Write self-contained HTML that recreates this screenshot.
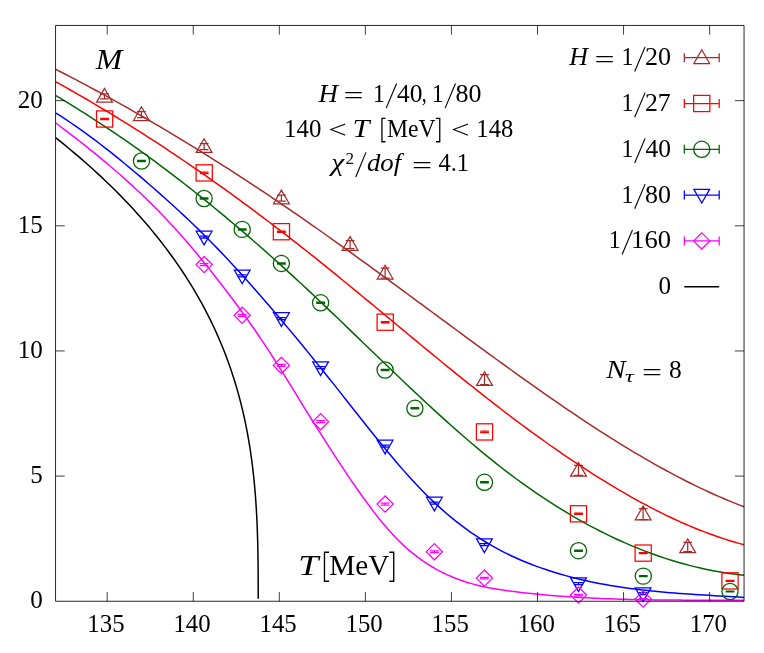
<!DOCTYPE html>
<html><head><meta charset="utf-8"><title>M vs T</title>
<style>html,body{margin:0;padding:0;background:#fff}body{width:764px;height:653px;overflow:hidden;font-family:"Liberation Serif",serif}</style>
</head><body>
<svg width="764" height="653" viewBox="0 0 764 653" style="display:block">
<rect width="764" height="653" fill="#fff"/>
<clipPath id="c"><rect x="55.55" y="25.45" width="688.5" height="575.8"/></clipPath>
<g clip-path="url(#c)" fill="none" stroke-width="1.5" stroke-linejoin="round">
<path d="M55.5,69.19L60.45,71.72L65.41,74.27L70.36,76.84L75.31,79.43L80.27,82.04L85.22,84.67L90.17,87.32L95.13,89.99L100.08,92.68L105.03,95.39L109.99,98.11L114.94,100.86L119.89,103.63L124.85,106.41L129.8,109.22L134.75,112.04L139.71,114.89L144.66,117.75L149.61,120.63L154.56,123.53L159.52,126.45L164.47,129.39L169.42,132.35L174.38,135.32L179.33,138.31L184.28,141.32L189.24,144.35L194.19,147.4L199.14,150.47L204.1,153.55L209.05,156.65L214,159.77L218.96,162.91L223.91,166.06L228.86,169.24L233.82,172.43L238.77,175.63L243.72,178.86L248.68,182.1L253.63,185.36L258.58,188.64L263.54,191.93L268.49,195.24L273.44,198.57L278.4,201.91L283.35,205.27L288.3,208.65L293.26,212.04L298.21,215.46L303.16,218.88L308.12,222.33L313.07,225.78L318.02,229.26L322.97,232.75L327.93,236.25L332.88,239.77L337.83,243.3L342.79,246.85L347.74,250.4L352.69,253.97L357.65,257.55L362.6,261.13L367.55,264.73L372.51,268.33L377.46,271.94L382.41,275.56L387.37,279.19L392.32,282.82L397.27,286.46L402.23,290.1L407.18,293.74L412.13,297.39L417.09,301.04L422.04,304.69L426.99,308.35L431.95,312L436.9,315.65L441.85,319.3L446.81,322.96L451.76,326.61L456.71,330.25L461.67,333.89L466.62,337.53L471.57,341.17L476.53,344.8L481.48,348.42L486.43,352.03L491.38,355.64L496.34,359.24L501.29,362.83L506.24,366.41L511.2,369.99L516.15,373.55L521.1,377.09L526.06,380.63L531.01,384.14L535.96,387.65L540.92,391.13L545.87,394.6L550.82,398.05L555.78,401.48L560.73,404.89L565.68,408.27L570.64,411.64L575.59,414.98L580.54,418.29L585.5,421.58L590.45,424.84L595.4,428.07L600.36,431.27L605.31,434.45L610.26,437.59L615.22,440.7L620.17,443.77L625.12,446.81L630.08,449.82L635.03,452.79L639.98,455.72L644.94,458.61L649.89,461.47L654.84,464.28L659.79,467.05L664.75,469.78L669.7,472.46L674.65,475.1L679.61,477.69L684.56,480.24L689.51,482.74L694.47,485.19L699.42,487.59L704.37,489.93L709.33,492.23L714.28,494.47L719.23,496.66L724.19,498.79L729.14,500.87L734.09,502.89L739.05,504.85L744,506.75" stroke="#a52a2a"/>
<path d="M55.5,81.7L60.45,84.44L65.41,87.21L70.36,90L75.31,92.81L80.27,95.66L85.22,98.52L90.17,101.41L95.13,104.33L100.08,107.27L105.03,110.24L109.99,113.23L114.94,116.24L119.89,119.28L124.85,122.35L129.8,125.43L134.75,128.55L139.71,131.68L144.66,134.85L149.61,138.03L154.56,141.24L159.52,144.47L164.47,147.73L169.42,151.01L174.38,154.32L179.33,157.65L184.28,161L189.24,164.37L194.19,167.77L199.14,171.2L204.1,174.64L209.05,178.11L214,181.6L218.96,185.12L223.91,188.66L228.86,192.22L233.82,195.8L238.77,199.41L243.72,203.04L248.68,206.69L253.63,210.36L258.58,214.06L263.54,217.78L268.49,221.52L273.44,225.29L278.4,229.07L283.35,232.88L288.3,236.71L293.26,240.56L298.21,244.44L303.16,248.33L308.12,252.25L313.07,256.19L318.02,260.15L322.97,264.13L327.93,268.12L332.88,272.14L337.83,276.17L342.79,280.21L347.74,284.26L352.69,288.33L357.65,292.41L362.6,296.49L367.55,300.59L372.51,304.69L377.46,308.79L382.41,312.9L387.37,317.01L392.32,321.13L397.27,325.24L402.23,329.35L407.18,333.46L412.13,337.56L417.09,341.66L422.04,345.75L426.99,349.84L431.95,353.91L436.9,357.98L441.85,362.03L446.81,366.07L451.76,370.1L456.71,374.11L461.67,378.1L466.62,382.07L471.57,386.03L476.53,389.96L481.48,393.87L486.43,397.76L491.38,401.63L496.34,405.46L501.29,409.28L506.24,413.06L511.2,416.82L516.15,420.54L521.1,424.24L526.06,427.9L531.01,431.54L535.96,435.14L540.92,438.71L545.87,442.24L550.82,445.74L555.78,449.21L560.73,452.63L565.68,456.02L570.64,459.37L575.59,462.68L580.54,465.96L585.5,469.19L590.45,472.38L595.4,475.52L600.36,478.63L605.31,481.69L610.26,484.7L615.22,487.67L620.17,490.59L625.12,493.46L630.08,496.29L635.03,499.07L639.98,501.79L644.94,504.46L649.89,507.08L654.84,509.64L659.79,512.15L664.75,514.59L669.7,516.98L674.65,519.3L679.61,521.57L684.56,523.77L689.51,525.9L694.47,527.97L699.42,529.97L704.37,531.9L709.33,533.76L714.28,535.55L719.23,537.27L724.19,538.91L729.14,540.47L734.09,541.96L739.05,543.37L744,544.7" stroke="#ff0000"/>
<path d="M55.5,95.44L60.45,98.38L65.41,101.36L70.36,104.38L75.31,107.44L80.27,110.53L85.22,113.66L90.17,116.82L95.13,120.02L100.08,123.26L105.03,126.53L109.99,129.84L114.94,133.18L119.89,136.56L124.85,139.98L129.8,143.43L134.75,146.92L139.71,150.44L144.66,154L149.61,157.59L154.56,161.22L159.52,164.88L164.47,168.58L169.42,172.32L174.38,176.09L179.33,179.89L184.28,183.73L189.24,187.6L194.19,191.51L199.14,195.45L204.1,199.43L209.05,203.44L214,207.48L218.96,211.55L223.91,215.66L228.86,219.8L233.82,223.97L238.77,228.17L243.72,232.41L248.68,236.67L253.63,240.97L258.58,245.3L263.54,249.65L268.49,254.04L273.44,258.45L278.4,262.9L283.35,267.37L288.3,271.87L293.26,276.4L298.21,280.96L303.16,285.55L308.12,290.16L313.07,294.8L318.02,299.47L322.97,304.15L327.93,308.86L332.88,313.59L337.83,318.33L342.79,323.08L347.74,327.85L352.69,332.62L357.65,337.4L362.6,342.18L367.55,346.96L372.51,351.74L377.46,356.51L382.41,361.28L387.37,366.04L392.32,370.79L397.27,375.53L402.23,380.25L407.18,384.95L412.13,389.63L417.09,394.28L422.04,398.91L426.99,403.51L431.95,408.08L436.9,412.62L441.85,417.12L446.81,421.59L451.76,426.01L456.71,430.39L461.67,434.73L466.62,439.02L471.57,443.25L476.53,447.44L481.48,451.57L486.43,455.64L491.38,459.66L496.34,463.61L501.29,467.49L506.24,471.31L511.2,475.07L516.15,478.76L521.1,482.38L526.06,485.93L531.01,489.42L535.96,492.84L540.92,496.2L545.87,499.49L550.82,502.71L555.78,505.86L560.73,508.95L565.68,511.97L570.64,514.92L575.59,517.81L580.54,520.62L585.5,523.37L590.45,526.06L595.4,528.67L600.36,531.22L605.31,533.7L610.26,536.11L615.22,538.45L620.17,540.73L625.12,542.94L630.08,545.08L635.03,547.15L639.98,549.15L644.94,551.08L649.89,552.95L654.84,554.75L659.79,556.47L664.75,558.13L669.7,559.72L674.65,561.25L679.61,562.7L684.56,564.08L689.51,565.4L694.47,566.64L699.42,567.82L704.37,568.92L709.33,569.96L714.28,570.93L719.23,571.82L724.19,572.65L729.14,573.41L734.09,574.1L739.05,574.72L744,575.26" stroke="#006400"/>
<path d="M55.5,112.85L60.45,115.98L65.41,119.2L70.36,122.5L75.31,125.89L80.27,129.36L85.22,132.91L90.17,136.53L95.13,140.22L100.08,143.99L105.03,147.81L109.99,151.7L114.94,155.65L119.89,159.66L124.85,163.72L129.8,167.83L134.75,171.99L139.71,176.19L144.66,180.43L149.61,184.71L154.56,189.03L159.52,193.38L164.47,197.78L169.42,202.22L174.38,206.72L179.33,211.27L184.28,215.88L189.24,220.55L194.19,225.29L199.14,230.1L204.1,234.99L209.05,239.95L214,245L218.96,250.13L223.91,255.33L228.86,260.6L233.82,265.95L238.77,271.35L243.72,276.82L248.68,282.35L253.63,287.94L258.58,293.58L263.54,299.26L268.49,305L273.44,310.78L278.4,316.6L283.35,322.47L288.3,328.38L293.26,334.32L298.21,340.31L303.16,346.33L308.12,352.39L313.07,358.48L318.02,364.6L322.97,370.76L327.93,376.94L332.88,383.15L337.83,389.38L342.79,395.64L347.74,401.92L352.69,408.2L357.65,414.48L362.6,420.74L367.55,426.98L372.51,433.17L377.46,439.32L382.41,445.4L387.37,451.41L392.32,457.33L397.27,463.15L402.23,468.87L407.18,474.47L412.13,479.93L417.09,485.25L422.04,490.42L426.99,495.42L431.95,500.24L436.9,504.9L441.85,509.38L446.81,513.7L451.76,517.86L456.71,521.85L461.67,525.68L466.62,529.35L471.57,532.87L476.53,536.23L481.48,539.44L486.43,542.5L491.38,545.42L496.34,548.2L501.29,550.84L506.24,553.35L511.2,555.75L516.15,558.02L521.1,560.19L526.06,562.25L531.01,564.21L535.96,566.08L540.92,567.87L545.87,569.57L550.82,571.2L555.78,572.75L560.73,574.22L565.68,575.63L570.64,576.97L575.59,578.24L580.54,579.44L585.5,580.59L590.45,581.67L595.4,582.7L600.36,583.67L605.31,584.58L610.26,585.45L615.22,586.26L620.17,587.03L625.12,587.76L630.08,588.44L635.03,589.08L639.98,589.68L644.94,590.25L649.89,590.79L654.84,591.29L659.79,591.76L664.75,592.21L669.7,592.63L674.65,593.03L679.61,593.4L684.56,593.76L689.51,594.1L694.47,594.43L699.42,594.75L704.37,595.06L709.33,595.36L714.28,595.65L719.23,595.94L724.19,596.23L729.14,596.53L734.09,596.82L739.05,597.12L744,597.43" stroke="#0000ff"/>
<path d="M55.5,122.75L60.45,126.5L65.41,130.28L70.36,134.08L75.31,137.91L80.27,141.78L85.22,145.69L90.17,149.64L95.13,153.65L100.08,157.7L105.03,161.82L109.99,165.99L114.94,170.23L119.89,174.54L124.85,178.93L129.8,183.39L134.75,187.94L139.71,192.57L144.66,197.29L149.61,202.11L154.56,207.03L159.52,212.06L164.47,217.19L169.42,222.43L174.38,227.79L179.33,233.27L184.28,238.88L189.24,244.61L194.19,250.46L199.14,256.42L204.1,262.48L209.05,268.65L214,274.91L218.96,281.26L223.91,287.7L228.86,294.21L233.82,300.81L238.77,307.51L243.72,314.31L248.68,321.24L253.63,328.3L258.58,335.5L263.54,342.85L268.49,350.36L273.44,358.02L278.4,365.81L283.35,373.7L288.3,381.67L293.26,389.69L298.21,397.73L303.16,405.77L308.12,413.78L313.07,421.74L318.02,429.63L322.97,437.46L327.93,445.21L332.88,452.87L337.83,460.45L342.79,467.92L347.74,475.3L352.69,482.56L357.65,489.71L362.6,496.71L367.55,503.55L372.51,510.19L377.46,516.6L382.41,522.75L387.37,528.59L392.32,534.1L397.27,539.27L402.23,544.1L407.18,548.61L412.13,552.81L417.09,556.71L422.04,560.32L426.99,563.67L431.95,566.76L436.9,569.59L441.85,572.2L446.81,574.59L451.76,576.76L456.71,578.74L461.67,580.54L466.62,582.17L471.57,583.64L476.53,584.96L481.48,586.16L486.43,587.23L491.38,588.19L496.34,589.06L501.29,589.85L506.24,590.57L511.2,591.23L516.15,591.85L521.1,592.44L526.06,593L531.01,593.53L535.96,594.03L540.92,594.51L545.87,594.96L550.82,595.38L555.78,595.79L560.73,596.16L565.68,596.52L570.64,596.85L575.59,597.17L580.54,597.46L585.5,597.73L590.45,597.99L595.4,598.22L600.36,598.44L605.31,598.64L610.26,598.82L615.22,598.99L620.17,599.15L625.12,599.29L630.08,599.42L635.03,599.53L639.98,599.63L644.94,599.73L649.89,599.81L654.84,599.88L659.79,599.94L664.75,600L669.7,600.05L674.65,600.09L679.61,600.12L684.56,600.15L689.51,600.18L694.47,600.2L699.42,600.22L704.37,600.23L709.33,600.25L714.28,600.26L719.23,600.27L724.19,600.29L729.14,600.3L734.09,600.32L739.05,600.34L744,600.36" stroke="#ff00ff"/>
<path d="M55.54,137.6L59.98,141.15L64.37,144.7L68.69,148.25L72.94,151.8L77.14,155.35L81.27,158.9L85.34,162.45L89.34,166L93.29,169.55L97.17,173.1L101,176.65L104.76,180.19L108.47,183.74L112.12,187.29L115.7,190.84L119.24,194.39L122.71,197.94L126.12,201.49L129.48,205.04L132.78,208.59L136.03,212.14L139.22,215.69L142.36,219.24L145.44,222.79L148.47,226.34L151.44,229.89L154.36,233.44L157.23,236.99L160.05,240.54L162.81,244.09L165.52,247.64L168.19,251.19L170.8,254.74L173.36,258.29L175.87,261.84L178.33,265.38L180.75,268.93L183.12,272.48L185.43,276.03L187.7,279.58L189.93,283.13L192.11,286.68L194.24,290.23L196.33,293.78L198.37,297.33L200.36,300.88L202.32,304.43L204.23,307.98L206.09,311.53L207.92,315.08L209.7,318.63L211.44,322.18L213.14,325.73L214.8,329.28L216.41,332.83L217.99,336.38L219.53,339.93L221.03,343.48L222.49,347.03L223.91,350.57L225.3,354.12L226.64,357.67L227.96,361.22L229.23,364.77L230.47,368.32L231.68,371.87L232.85,375.42L233.98,378.97L235.08,382.52L236.15,386.07L237.19,389.62L238.19,393.17L239.16,396.72L240.1,400.27L241.01,403.82L241.89,407.37L242.74,410.92L243.56,414.47L244.35,418.02L245.11,421.57L245.85,425.12L246.56,428.67L247.24,432.22L247.89,435.76L248.52,439.31L249.12,442.86L249.7,446.41L250.25,449.96L250.78,453.51L251.28,457.06L251.77,460.61L252.23,464.16L252.66,467.71L253.08,471.26L253.48,474.81L253.85,478.36L254.21,481.91L254.54,485.46L254.86,489.01L255.16,492.56L255.44,496.11L255.7,499.66L255.95,503.21L256.17,506.76L256.39,510.31L256.59,513.86L256.77,517.41L256.94,520.95L257.1,524.5L257.24,528.05L257.37,531.6L257.49,535.15L257.6,538.7L257.69,542.25L257.78,545.8L257.85,549.35L257.92,552.9L257.98,556.45L258.03,560L258.05,562L258.09,566.09L258.13,570.18L258.16,574.27L258.18,578.36L258.19,582.44L258.2,586.53L258.21,590.62L258.21,594.71L258.21,598.8" stroke="#000"/>
</g>
<g fill="none" stroke="#a52a2a" stroke-width="1.25">
<path d="M104.5,93.8V98.8M100.1,93.8H108.9M100.1,98.8H108.9"/>
<path d="M104.5,88.4L96.6,102.1H112.4Z"/>
<path d="M141.4,111.7V117.7M137,111.7H145.8M137,117.7H145.8"/>
<path d="M141.4,106.8L133.5,120.5H149.3Z"/>
<path d="M204.1,143.6V149.6M199.7,143.6H208.5M199.7,149.6H208.5"/>
<path d="M204.1,138.7L196.2,152.4H212Z"/>
<path d="M281.4,195V201M277,195H285.8M277,201H285.8"/>
<path d="M281.4,190.1L273.5,203.8H289.3Z"/>
<path d="M350.1,240.5V248.5M345.7,240.5H354.5M345.7,248.5H354.5"/>
<path d="M350.1,236.6L342.2,250.3H358Z"/>
<path d="M385.1,268.2V278.2M380.7,268.2H389.5M380.7,278.2H389.5"/>
<path d="M385.1,265.3L377.2,279H393Z"/>
<path d="M484.5,374.6V384.6M480.1,374.6H488.9M480.1,384.6H488.9"/>
<path d="M484.5,371.7L476.6,385.4H492.4Z"/>
<path d="M578.5,465.4V475.4M574.1,465.4H582.9M574.1,475.4H582.9"/>
<path d="M578.5,462.5L570.6,476.2H586.4Z"/>
<path d="M643.1,508.5V519.5M638.7,508.5H647.5M638.7,519.5H647.5"/>
<path d="M643.1,506.1L635.2,519.8H651Z"/>
<path d="M687.7,542.3V551.5M683.3,542.3H692.1M683.3,551.5H692.1"/>
<path d="M687.7,539L679.8,552.7H695.6Z"/>
</g>
<g fill="none" stroke="#ff0000" stroke-width="1.25">
<path d="M104.6,118.3V119.7M100.2,118.3H109M100.2,119.7H109"/>
<rect x="96.5" y="110.9" width="16.2" height="16.2"/>
<path d="M204.2,172.2V173.6M199.8,172.2H208.6M199.8,173.6H208.6"/>
<rect x="196.1" y="164.8" width="16.2" height="16.2"/>
<path d="M281.4,231V232.4M277,231H285.8M277,232.4H285.8"/>
<rect x="273.3" y="223.6" width="16.2" height="16.2"/>
<path d="M385.2,321.5V322.9M380.8,321.5H389.6M380.8,322.9H389.6"/>
<rect x="377.1" y="314.1" width="16.2" height="16.2"/>
<path d="M484.5,431.2V432.6M480.1,431.2H488.9M480.1,432.6H488.9"/>
<rect x="476.4" y="423.8" width="16.2" height="16.2"/>
<path d="M578.5,513.2V514.4M574.1,513.2H582.9M574.1,514.4H582.9"/>
<rect x="570.4" y="505.7" width="16.2" height="16.2"/>
<path d="M643.2,552.5V553.7M638.8,552.5H647.6M638.8,553.7H647.6"/>
<rect x="635.1" y="545" width="16.2" height="16.2"/>
<path d="M730,580.35V581.45M725.6,580.35H734.4M725.6,581.45H734.4"/>
<rect x="721.9" y="572.8" width="16.2" height="16.2"/>
</g>
<g fill="none" stroke="#006400" stroke-width="1.25">
<path d="M141.5,160.4V161.6M137.1,160.4H145.9M137.1,161.6H145.9"/>
<circle cx="141.5" cy="161" r="8.1"/>
<path d="M204.1,197.9V199.1M199.7,197.9H208.5M199.7,199.1H208.5"/>
<circle cx="204.1" cy="198.5" r="8.1"/>
<path d="M242.2,228.8V230M237.8,228.8H246.6M237.8,230H246.6"/>
<circle cx="242.2" cy="229.4" r="8.1"/>
<path d="M281.4,262.8V264M277,262.8H285.8M277,264H285.8"/>
<circle cx="281.4" cy="263.4" r="8.1"/>
<path d="M320.6,302.2V303.4M316.2,302.2H325M316.2,303.4H325"/>
<circle cx="320.6" cy="302.8" r="8.1"/>
<path d="M385.1,369.4V370.6M380.7,369.4H389.5M380.7,370.6H389.5"/>
<circle cx="385.1" cy="370" r="8.1"/>
<path d="M414.9,407.7V408.9M410.5,407.7H419.3M410.5,408.9H419.3"/>
<circle cx="414.9" cy="408.3" r="8.1"/>
<path d="M484.5,481.7V482.9M480.1,481.7H488.9M480.1,482.9H488.9"/>
<circle cx="484.5" cy="482.3" r="8.1"/>
<path d="M578.5,550.1V551.3M574.1,550.1H582.9M574.1,551.3H582.9"/>
<circle cx="578.5" cy="550.7" r="8.1"/>
<path d="M643.3,575.5V576.7M638.9,575.5H647.7M638.9,576.7H647.7"/>
<circle cx="643.3" cy="576.1" r="8.1"/>
<path d="M730,591.2V591.8M725.6,591.2H734.4M725.6,591.8H734.4"/>
<circle cx="730" cy="591.5" r="8.1"/>
</g>
<g fill="none" stroke="#0000ff" stroke-width="1.25">
<path d="M204.1,236V238M199.7,236H208.5M199.7,238H208.5"/>
<path d="M204.1,244.9L196.2,231.2H212Z"/>
<path d="M242.2,274.9V276.9M237.8,274.9H246.6M237.8,276.9H246.6"/>
<path d="M242.2,283.8L234.3,270.1H250.1Z"/>
<path d="M281.4,317.5V319.5M277,317.5H285.8M277,319.5H285.8"/>
<path d="M281.4,326.4L273.5,312.7H289.3Z"/>
<path d="M320.6,366.7V368.7M316.2,366.7H325M316.2,368.7H325"/>
<path d="M320.6,375.6L312.7,361.9H328.5Z"/>
<path d="M385.1,445V447M380.7,445H389.5M380.7,447H389.5"/>
<path d="M385.1,453.9L377.2,440.2H393Z"/>
<path d="M434.4,502V504M430,502H438.8M430,504H438.8"/>
<path d="M434.4,510.9L426.5,497.2H442.3Z"/>
<path d="M484.4,543.7V545.7M480,543.7H488.8M480,545.7H488.8"/>
<path d="M484.4,552.6L476.5,538.9H492.3Z"/>
<path d="M578.5,582.7V584.7M574.1,582.7H582.9M574.1,584.7H582.9"/>
<path d="M578.5,591.6L570.6,577.9H586.4Z"/>
<path d="M643.1,592.7V594.7M638.7,592.7H647.5M638.7,594.7H647.5"/>
<path d="M643.1,601.6L635.2,587.9H651Z"/>
</g>
<g fill="none" stroke="#ff00ff" stroke-width="1.25">
<path d="M204.1,263.6V265.6M199.7,263.6H208.5M199.7,265.6H208.5"/>
<path d="M204.1,256.5L196,264.6L204.1,272.7L212.2,264.6Z"/>
<path d="M242.2,314.3V316.3M237.8,314.3H246.6M237.8,316.3H246.6"/>
<path d="M242.2,307.2L234.1,315.3L242.2,323.4L250.3,315.3Z"/>
<path d="M281.4,364.4V366.4M277,364.4H285.8M277,366.4H285.8"/>
<path d="M281.4,357.3L273.3,365.4L281.4,373.5L289.5,365.4Z"/>
<path d="M320.6,420.7V422.7M316.2,420.7H325M316.2,422.7H325"/>
<path d="M320.6,413.6L312.5,421.7L320.6,429.8L328.7,421.7Z"/>
<path d="M385.1,503.1V505.1M380.7,503.1H389.5M380.7,505.1H389.5"/>
<path d="M385.1,496L377,504.1L385.1,512.2L393.2,504.1Z"/>
<path d="M434.4,550.9V552.5M430,550.9H438.8M430,552.5H438.8"/>
<path d="M434.4,543.6L426.3,551.7L434.4,559.8L442.5,551.7Z"/>
<path d="M484.4,577.4V578.8M480,577.4H488.8M480,578.8H488.8"/>
<path d="M484.4,570L476.3,578.1L484.4,586.2L492.5,578.1Z"/>
<path d="M578.5,594.4V595.8M574.1,594.4H582.9M574.1,595.8H582.9"/>
<path d="M578.5,587L570.4,595.1L578.5,603.2L586.6,595.1Z"/>
<path d="M643.1,598.3V599.7M638.7,598.3H647.5M638.7,599.7H647.5"/>
<path d="M643.1,590.9L635,599L643.1,607.1L651.2,599Z"/>
</g>
<path d="M107.19,601.25v-9.2M107.19,25.45v9.2M193.25,601.25v-9.2M193.25,25.45v9.2M279.31,601.25v-9.2M279.31,25.45v9.2M365.38,601.25v-9.2M365.38,25.45v9.2M451.44,601.25v-9.2M451.44,25.45v9.2M537.5,601.25v-9.2M537.5,25.45v9.2M623.56,601.25v-9.2M623.56,25.45v9.2M709.62,601.25v-9.2M709.62,25.45v9.2M55.55,476.1h9.2M744.05,476.1h-9.2M55.55,350.95h9.2M744.05,350.95h-9.2M55.55,225.8h9.2M744.05,225.8h-9.2M55.55,100.65h9.2M744.05,100.65h-9.2" fill="none" stroke="#000" stroke-width="0.75"/>
<path d="M55.55,25.45H744.05V601.25H55.55Z" fill="none" stroke="#000" stroke-width="0.85"/>
<g font-family="Liberation Serif, serif" fill="#000" opacity="0.999">
<text transform="translate(87.37,631.50) scale(0.9700,1)" font-size="25.6">135</text>
<text transform="translate(173.41,631.50) scale(0.9700,1)" font-size="25.6">140</text>
<text transform="translate(259.50,631.50) scale(0.9700,1)" font-size="25.6">145</text>
<text transform="translate(345.53,631.50) scale(0.9700,1)" font-size="25.6">150</text>
<text transform="translate(431.62,631.50) scale(0.9700,1)" font-size="25.6">155</text>
<text transform="translate(517.66,631.50) scale(0.9700,1)" font-size="25.6">160</text>
<text transform="translate(603.75,631.50) scale(0.9700,1)" font-size="25.6">165</text>
<text transform="translate(689.78,631.50) scale(0.9700,1)" font-size="25.6">170</text>
<text transform="translate(30.30,608.40) scale(0.9800,1)" font-size="25.6">0</text>
<text transform="translate(30.36,483.40) scale(0.9800,1)" font-size="25.6">5</text>
<text transform="translate(17.75,358.40) scale(0.9800,1)" font-size="25.6">10</text>
<text transform="translate(17.82,233.40) scale(0.9800,1)" font-size="25.6">15</text>
<text transform="translate(17.75,108.40) scale(0.9800,1)" font-size="25.6">20</text>
<text transform="translate(569.26,65.30) scale(1.0229,1)" font-size="25.4" font-style="italic">H</text>
<text transform="translate(594.52,67.85) scale(1.4000,1)" font-size="25.4">=</text>
<text transform="translate(644.89,65.30) scale(1.0190,1)" font-size="25.6">20</text>
<path d="M634.70,71.50L645.10,46.90" stroke="#000" stroke-width="1.15" fill="none"/>
<text transform="translate(621.41,65.30) scale(0.9309,1)" font-size="25.6">1</text>
<text transform="translate(644.90,111.05) scale(1.0081,1)" font-size="25.6">27</text>
<path d="M634.70,117.25L645.10,92.65" stroke="#000" stroke-width="1.15" fill="none"/>
<text transform="translate(621.41,111.05) scale(0.9309,1)" font-size="25.6">1</text>
<text transform="translate(645.49,156.80) scale(0.9947,1)" font-size="25.6">40</text>
<path d="M634.70,163.00L645.10,138.40" stroke="#000" stroke-width="1.15" fill="none"/>
<text transform="translate(621.41,156.80) scale(0.9309,1)" font-size="25.6">1</text>
<text transform="translate(645.03,202.55) scale(1.0135,1)" font-size="25.6">80</text>
<path d="M634.70,208.75L645.10,184.15" stroke="#000" stroke-width="1.15" fill="none"/>
<text transform="translate(621.41,202.55) scale(0.9309,1)" font-size="25.6">1</text>
<text transform="translate(631.07,248.30) scale(1.0398,1)" font-size="25.6">160</text>
<path d="M622.10,254.50L632.50,229.90" stroke="#000" stroke-width="1.15" fill="none"/>
<text transform="translate(608.81,248.30) scale(0.9309,1)" font-size="25.6">1</text>
<text transform="translate(658.40,294.05) scale(0.9800,1)" font-size="25.6">0</text>
<text transform="translate(318.57,101.90) scale(1.0583,1)" font-size="25.4" font-style="italic">H</text>
<text transform="translate(343.52,104.45) scale(1.4000,1)" font-size="25.4">=</text>
<text transform="translate(396.99,101.90) scale(0.9947,1)" font-size="25.6">40</text>
<path d="M386.20,108.10L396.60,83.50" stroke="#000" stroke-width="1.15" fill="none"/>
<text transform="translate(372.91,101.90) scale(0.9309,1)" font-size="25.6">1</text>
<text transform="translate(421.65,101.90) scale(0.7812,1)" font-size="25.6">,</text>
<text transform="translate(455.43,101.90) scale(1.0135,1)" font-size="25.6">80</text>
<path d="M445.10,108.10L455.50,83.50" stroke="#000" stroke-width="1.15" fill="none"/>
<text transform="translate(431.81,101.90) scale(0.9309,1)" font-size="25.6">1</text>
<text transform="translate(284.12,136.80) scale(0.9716,1)" font-size="25.6">140</text>
<text transform="translate(328.25,138.21) scale(1.2954,1)" font-size="25.4">&lt;</text>
<text transform="translate(352.61,136.80) scale(1.2026,1)" font-size="25.4" font-style="italic">T</text>
<path d="M385.50,118.45H381.95V141.75H385.50" stroke="#000" stroke-width="1.3" fill="none"/>
<text transform="translate(386.95,136.80) scale(0.9320,1)" font-size="25.4">MeV</text>
<path d="M435.90,118.45H439.75V141.75H435.90" stroke="#000" stroke-width="1.3" fill="none"/>
<text transform="translate(450.97,138.21) scale(1.2869,1)" font-size="25.4">&lt;</text>
<text transform="translate(476.35,136.80) scale(0.9602,1)" font-size="25.6">148</text>
<text transform="translate(331.16,170.80) scale(1.1592,1)" font-size="25.4" font-style="italic">χ</text>
<text transform="translate(345.47,164.30) scale(0.9796,1)" font-size="17.5">2</text>
<path d="M355.80,177.00L365.90,152.40" stroke="#000" stroke-width="1.15" fill="none"/>
<text transform="translate(366.90,170.80) scale(1.0547,1)" font-size="25.4" font-style="italic">dof</text>
<text transform="translate(412.02,173.55) scale(1.4000,1)" font-size="25.4">=</text>
<text transform="translate(438.51,170.80) scale(0.9549,1)" font-size="25.6">4.1</text>
<text transform="translate(606.32,378.20) scale(1.1483,1)" font-size="25.4" font-style="italic">N</text>
<text transform="translate(625.05,381.90) scale(1.4000,1)" font-size="17.5" font-style="italic">τ</text>
<text transform="translate(641.92,380.65) scale(1.4000,1)" font-size="25.4">=</text>
<text transform="translate(668.95,378.20) scale(0.9926,1)" font-size="25.6">8</text>
<text transform="translate(95.80,68.90) scale(1.0470,1)" font-size="30.5" font-style="italic">M</text>
<text transform="translate(298.35,574.50) scale(1.1863,1)" font-size="30.5" font-style="italic">T</text>
<path d="M329.00,552.27H324.48V581.23H329.00" stroke="#000" stroke-width="1.35" fill="none"/>
<text transform="translate(329.30,574.50) scale(0.9568,1)" font-size="30.5">MeV</text>
<path d="M389.30,552.27H393.72V581.23H389.30" stroke="#000" stroke-width="1.35" fill="none"/>
</g>
<g fill="none" stroke="#a52a2a" stroke-width="1.25"><path d="M684.3,57.7H719.2M684.3,53.2v9M719.2,53.2v9"/>
<path d="M701.75,49.8L693.85,63.5H709.65Z"/></g>
<g fill="none" stroke="#ff0000" stroke-width="1.25"><path d="M684.3,103.5H719.2M684.3,99v9M719.2,99v9"/>
<rect x="693.65" y="95.4" width="16.2" height="16.2"/></g>
<g fill="none" stroke="#006400" stroke-width="1.25"><path d="M684.3,149.3H719.2M684.3,144.8v9M719.2,144.8v9"/>
<circle cx="701.75" cy="149.3" r="8.1"/></g>
<g fill="none" stroke="#0000ff" stroke-width="1.25"><path d="M684.3,195.1H719.2M684.3,190.6v9M719.2,190.6v9"/>
<path d="M701.75,203L693.85,189.3H709.65Z"/></g>
<g fill="none" stroke="#ff00ff" stroke-width="1.25"><path d="M684.3,240.9H719.2M684.3,236.4v9M719.2,236.4v9"/>
<path d="M701.75,232.8L693.65,240.9L701.75,249L709.85,240.9Z"/></g>
<path d="M684.3,286.7H719.2" stroke="#000" stroke-width="1.5" fill="none"/>
</svg>
</body></html>
